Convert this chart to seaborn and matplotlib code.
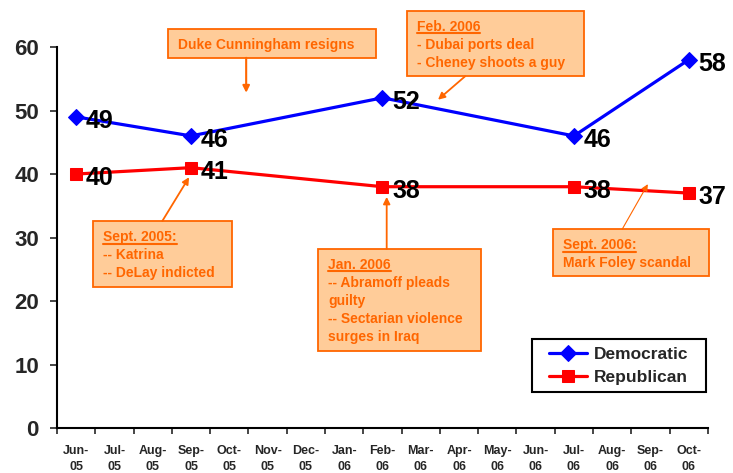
import seaborn as sns
import matplotlib.pyplot as plt
from matplotlib.lines import Line2D
from matplotlib.patches import Rectangle

import numpy as np
import pandas as pd

# data
months = ["Jun-\n05", "Jul-\n05", "Aug-\n05", "Sep-\n05", "Oct-\n05", "Nov-\n05",
          "Dec-\n05", "Jan-\n06", "Feb-\n06", "Mar-\n06", "Apr-\n06", "May-\n06",
          "Jun-\n06", "Jul-\n06", "Aug-\n06", "Sep-\n06", "Oct-\n06"]
poll_months = ["Jun-\n05", "Sep-\n05", "Feb-\n06", "Jul-\n06", "Oct-\n06"]
democratic = [49, 46, 52, 46, 58]
republican = [40, 41, 38, 38, 37]

notes_duke = ["Duke Cunningham resigns"]
notes_feb06 = ["Feb. 2006", "- Dubai ports deal", "- Cheney shoots a guy"]
notes_sep05 = ["Sept. 2005:", "-- Katrina", "-- DeLay indicted"]
notes_jan06 = ["Jan. 2006", "-- Abramoff pleads", "guilty", "-- Sectarian violence", "surges in Iraq"]
notes_sep06 = ["Sept. 2006:", "Mark Foley scandal"]

sns.set_style("white")
plt.rcParams["font.family"] = ["Liberation Sans", "DejaVu Sans"]
plt.rcParams["font.weight"] = "bold"

orange = "#FF6600"
box_fill = "#FFCC99"

pos = [months.index(m) for m in poll_months]
df = pd.DataFrame({"x": pos, "Democratic": democratic, "Republican": republican})

fig = plt.figure(figsize=(7.33, 4.73), dpi=100)
ax = fig.add_axes([0.0778, 0.0951, 0.888, 0.8055])

sns.lineplot(data=df, x="x", y="Democratic", ax=ax, color="blue", marker="D",
             markersize=8.5, markeredgecolor="blue", linewidth=2.3, label="Democratic")
sns.lineplot(data=df, x="x", y="Republican", ax=ax, color="red", marker="s",
             markersize=8.5, markeredgecolor="red", linewidth=2.3, label="Republican")

for xi, d, r in zip(pos, democratic, republican):
    for v in (d, r):
        ax.annotate(str(v), xy=(xi, v), xytext=(7, -3), textcoords="offset points",
                    ha="left", va="center", fontsize=18, fontweight="bold", color="black")

ax.set_xlim(-0.5, 16.5)
ax.set_ylim(0, 60)
ax.set_yticks(np.arange(0, 61, 10))
ax.set_xticks(np.arange(len(months)))
ax.set_xticklabels(months, fontsize=9, fontweight="bold")
for lbl in ax.get_xticklabels():
    lbl.set_linespacing(1.45)
ax.set_xticks(np.arange(len(months) + 1) - 0.5, minor=True)
ax.tick_params(axis="x", which="major", length=0, pad=12)
ax.tick_params(axis="x", which="minor", length=4, width=1.2, direction="out", bottom=True)
ax.tick_params(axis="y", length=5, width=1.2, direction="out", left=True, pad=8, labelsize=16)
for lbl in ax.get_yticklabels():
    lbl.set_fontweight("bold")
ax.set_xlabel("")
ax.set_ylabel("")
sns.despine(ax=ax)
for s in ("left", "bottom"):
    ax.spines[s].set_linewidth(1.5)
    ax.spines[s].set_color("black")

# legend frame drawn separately so it can be wider than its contents
ax.add_patch(Rectangle((0.7296, 0.0945), 0.2673, 0.1391, transform=ax.transAxes,
                       facecolor="white", edgecolor="black", linewidth=1.5,
                       clip_on=False, zorder=6))
leg = ax.legend(loc="center", bbox_to_anchor=(0.8633, 0.164), frameon=False,
                fontsize=12.5, handlelength=2.2, labelspacing=0.45,
                borderpad=0.4, handletextpad=0.4, borderaxespad=0)
leg.set_zorder(7)
for t in leg.get_texts():
    t.set_fontweight("bold")

# annotation boxes: (lines, x0, x1, ytop, ybottom, arrow start, arrow end, underline, arrow width)
notes = [
    (notes_duke, 2.40, 7.83, 62.8, 58.3, (4.44, 58.3), (4.44, 52.8), False, 1.5),
    (notes_feb06, 8.64, 13.26, 65.7, 55.4, (10.16, 55.4), (9.45, 51.7), True, 1.3),
    (notes_sep05, 0.44, 4.07, 32.6, 22.2, (2.25, 32.6), (2.95, 39.5), True, 1.3),
    (notes_jan06, 6.32, 10.57, 28.2, 12.1, (8.11, 28.2), (8.11, 36.4), True, 1.3),
    (notes_sep06, 12.45, 16.53, 31.3, 23.9, (14.26, 31.3), (14.93, 38.4), True, 0.8),
]

heads = []
for lines, x0, x1, yt, yb, a0, a1, underline, aw in notes:
    ax.add_patch(Rectangle((x0, yb), x1 - x0, yt - yb, facecolor=box_fill,
                           edgecolor=orange, linewidth=1.3, clip_on=False, zorder=4))
    ax.annotate("", xy=a1, xytext=a0,
                arrowprops=dict(arrowstyle="-|>", color=orange, lw=aw,
                                mutation_scale=10, shrinkA=0, shrinkB=0),
                annotation_clip=False, zorder=4)
    for k, line in enumerate(lines):
        t = ax.annotate(line, xy=(x0, yt), xytext=(10, -20 - 18 * k),
                        textcoords="offset pixels", ha="left", va="baseline",
                        fontsize=10, fontweight="bold", color=orange,
                        annotation_clip=False, zorder=5)
        if k == 0 and underline:
            heads.append((t, x0, yt))

fig.canvas.draw()
renderer = fig.canvas.get_renderer()
for t, x0, yt in heads:
    bb = t.get_window_extent(renderer)
    base = ax.transData.transform((x0, yt))[1] - 20 - 2.5
    p0 = fig.transFigure.inverted().transform((bb.x0, base))
    p1 = fig.transFigure.inverted().transform((bb.x1, base))
    fig.add_artist(Line2D([p0[0], p1[0]], [p0[1], p1[1]], color=orange, linewidth=1.5, zorder=6))

fig.savefig("out.png", dpi=100)
